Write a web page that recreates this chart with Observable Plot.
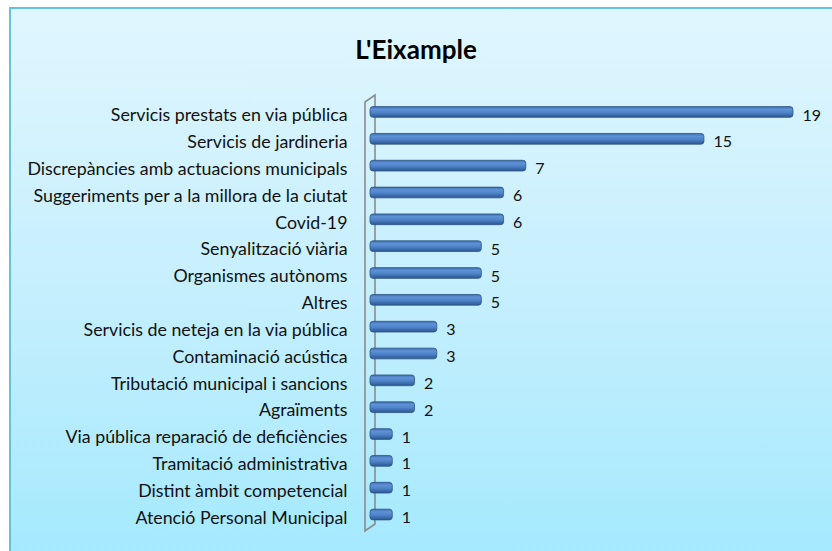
<!DOCTYPE html>
<html>
<head>
<meta charset="utf-8">
<script src="https://cdn.jsdelivr.net/npm/d3@7"></script>
<script src="https://cdn.jsdelivr.net/npm/@observablehq/plot@0.6"></script>
<style>
  html, body { margin: 0; padding: 0; background: #ffffff; }
  #wrap { position: relative; width: 832px; height: 551px; overflow: hidden; }
  #panel { position: absolute; left: 9px; top: 7px; width: 840px; height: 560px;
           border: 2px solid #62c3e0; box-sizing: border-box;
           background: linear-gradient(to bottom, #e0f6fe 0%, #c6effd 50%, #a3e9fe 100%); }
  #title { position: absolute; left: 0; width: 832px; top: 33px; text-align: center;
           font-family: Lato, "Open Sans", sans-serif; font-weight: bold; font-size: 26px; color: #000; }
  #chart { position: absolute; left: 0; top: 0; }
</style>
</head>
<body>
<div id="wrap">
  <div id="panel"></div>
  <div id="title">L'Eixample</div>
  <div id="chart"></div>
</div>
<script>
const categories = [
  "Servicis prestats en via pública",
  "Servicis de jardineria",
  "Discrepàncies amb actuacions municipals",
  "Suggeriments per a la millora de la ciutat",
  "Covid-19",
  "Senyalització viària",
  "Organismes autònoms",
  "Altres",
  "Servicis de neteja en la via pública",
  "Contaminació acústica",
  "Tributació municipal i sancions",
  "Agraïments",
  "Via pública reparació de deficiències",
  "Tramitació administrativa",
  "Distint àmbit competencial",
  "Atenció Personal Municipal"
];
const values = [19, 15, 7, 6, 6, 5, 5, 5, 3, 3, 2, 2, 1, 1, 1, 1];

const data = categories.map((c, i) => ({category: c, value: values[i]}));

const M_TOP = 90.5, M_BOTTOM = 15, H = 551;

const chart = Plot.plot({
  width: 832,
  height: H,
  marginLeft: 370,
  marginRight: 39,
  marginTop: M_TOP,
  marginBottom: M_BOTTOM,
  style: {background: "transparent", fontFamily: "Lato, 'Open Sans', sans-serif", color: "#000"},
  x: {domain: [0, 19], axis: null},
  y: {domain: categories, padding: 0.6, round: false, axis: null},
  marks: [
    Plot.axisY({fontSize: 17.8, tickSize: 0, tickPadding: 23, dy: 3, label: null, fill: "#111"}),
    Plot.barX(data, {x: "value", y: "category", fill: "url(#barGrad)", stroke: "#2f5586", strokeWidth: 0.8, rx: 3}),
    Plot.text(data, {x: "value", y: "category", text: d => String(d.value), dx: 9, dy: 3, textAnchor: "start", fill: "#111", fontSize: 16})
  ]
});

document.getElementById("chart").appendChild(chart);

// gradient for cylinder-like bars
const svg = d3.select(chart);
const defs = svg.insert("defs", ":first-child");
const grad = defs.append("linearGradient").attr("id", "barGrad").attr("x1", 0).attr("y1", 0).attr("x2", 0).attr("y2", 1);
[[0, "#3d6bab"], [0.25, "#5e92d8"], [0.55, "#4f84c9"], [1, "#2b5590"]].forEach(([o, c]) =>
  grad.append("stop").attr("offset", o).attr("stop-color", c));

// 3D axis wall drawn from the scales
const xs = chart.scale("x");
const x0 = xs.apply(0);
const yTop = M_TOP, yBottom = H - M_BOTTOM;
const depth = 5;
const wall = svg.insert("g", "g[aria-label='bar']").attr("fill", "none").attr("stroke", "#8c8c8c").attr("stroke-width", 1.6);
wall.append("path").attr("d",
  `M${x0 - depth},${yTop + 11.5} L${x0 + depth},${yTop + 4.5} L${x0 + depth},${yBottom - 12} L${x0 - depth},${yBottom - 5} Z`);
</script>
</body>
</html>
